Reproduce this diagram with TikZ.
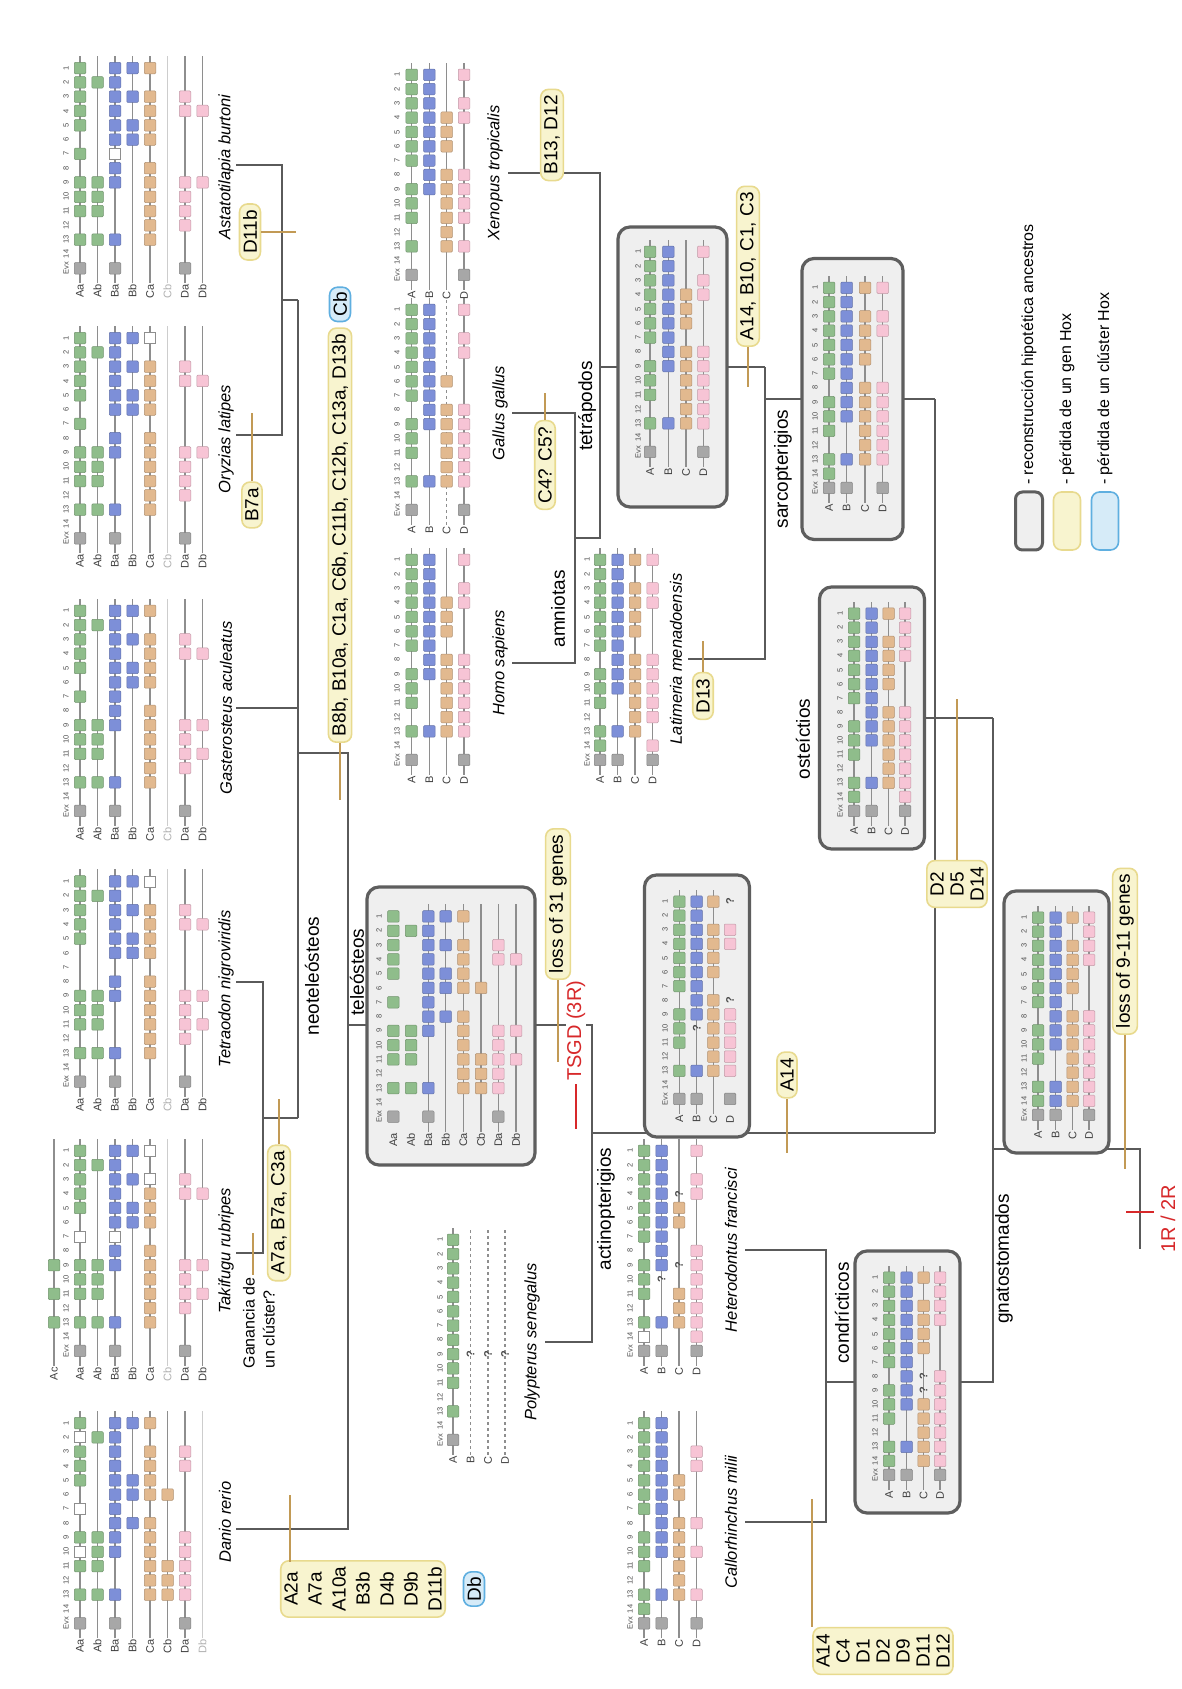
\documentclass[tikz,border=0pt]{standalone}
\usepackage{fontspec}
\setmainfont{Liberation Sans}
\definecolor{cgr}{HTML}{8FBD8B}
\definecolor{cbl}{HTML}{7D8FD8}
\definecolor{cor}{HTML}{E2B98F}
\definecolor{cpk}{HTML}{F7C4D5}
\definecolor{cgy}{HTML}{A7A7A7}
\definecolor{rowline}{HTML}{8E8E8E}
\definecolor{lostline}{HTML}{CDCDCD}
\definecolor{treeline}{HTML}{5A5A5A}
\definecolor{tanline}{HTML}{C29A55}
\definecolor{yfill}{HTML}{F8F4CF}
\definecolor{ybord}{HTML}{E8DA8E}
\definecolor{bfill}{HTML}{D6EBF8}
\definecolor{bbord}{HTML}{5FAFE0}
\definecolor{afill}{HTML}{EFEFEF}
\definecolor{abord}{HTML}{5E5E5E}
\definecolor{redc}{HTML}{D7282A}
\newcommand\gsp{14.3}
\tikzset{
  gsq/.style={draw=#1!78!black, fill=#1, line width=0.5pt, minimum size=11.5pt, inner sep=0pt, rounded corners=1pt},
  esq/.style={draw=rowline, fill=white, line width=0.8pt, minimum size=11pt, inner sep=0pt},
  rline/.style={draw=rowline, line width=1.2pt},
  lline/.style={draw=lostline, line width=1.2pt},
  rlab/.style={anchor=east, inner sep=1pt, text=black!75, font=\fontsize{11}{12}\selectfont},
  llab/.style={rlab, text=black!30},
  hd/.style={inner sep=0pt, text=black!70, font=\fontsize{7.5}{8}\selectfont},
  qm/.style={inner sep=0pt, text=black!70, font=\fontsize{11}{12}\selectfont\bfseries},
  sp/.style={inner sep=1pt, font=\fontsize{16.5}{18}\selectfont\itshape},
  clade/.style={inner sep=1pt, font=\fontsize{19}{21}\selectfont},
  tree/.style={draw=treeline, line width=1.3pt},
  lossl/.style={draw=tanline, line width=1.3pt},
  ybox/.style={draw=ybord, fill=yfill, line width=1.6pt, rounded corners=8pt, inner xsep=6pt, inner ysep=3.5pt, align=center, font=\fontsize{19}{24}\selectfont},
  bbox/.style={draw=bbord, fill=bfill, line width=1.6pt, rounded corners=8pt, inner xsep=5pt, inner ysep=3.5pt, font=\fontsize{19}{22}\selectfont},
  abox/.style={draw=abord, fill=afill, line width=3.2pt, rounded corners=12pt},
  redt/.style={text=redc, inner sep=1pt, font=\fontsize{20}{22}\selectfont},
  redl/.style={draw=redc, line width=2.5pt},
  legt/.style={anchor=west, inner sep=1pt, font=\fontsize{16}{18}\selectfont},
}
\newcommand\hxrow[5]{%
  \foreach \g in {#4}{\ifnum\g=15\relax\node[gsq=cgy] at ({#1},{#2}) {};\else\ifnum\g>0\relax\node[gsq=#3] at ({#1+(15-\g)*\gsp},{#2}) {};\fi\fi}%
  \foreach \g in {#5}{\ifnum\g>0\relax\node[esq] at ({#1+(15-\g)*\gsp},{#2}) {};\fi}%
}
\newcommand\hx[6]{%
  \draw[rline] ({#1-15},{#2}) -- ({#1+14*\gsp+12},{#2});
  \node[rlab] at ({#1-15},{#2}) {#3};
  \hxrow{#1}{#2}{#4}{#5}{#6}}
\newcommand\hxd[6]{%
  \draw[rline,dashed] ({#1-15},{#2}) -- ({#1+14*\gsp+12},{#2});
  \node[rlab] at ({#1-15},{#2}) {#3};
  \hxrow{#1}{#2}{#4}{#5}{#6}}
\newcommand\hxn[6]{%
  \node[rlab] at ({#1-15},{#2}) {#3};
  \hxrow{#1}{#2}{#4}{#5}{#6}}
\newcommand\hxlost[3]{%
  \draw[lline] ({#1-15},{#2}) -- ({#1+14*\gsp+12},{#2});
  \node[llab] at ({#1-15},{#2}) {#3};}
\newcommand\hxhead[2]{%
  \node[hd] at ({#1},{#2}) {Evx};
  \foreach \g in {14,13,...,1}{\node[hd] at ({#1+(15-\g)*\gsp},{#2}) {\g};}}
\begin{document}
\begin{tikzpicture}[x=1pt,y=-1pt,rotate=90,transform shape]
\useasboundingbox[fill=white] (0,0) rectangle (1689,1181);

% ===================== tree (drawn first) =====================
% teleosts
\coordinate (danB) at (160,236);  \coordinate (danN) at (160,348);
\coordinate (telN) at (664,348);  \coordinate (neoN) at (936,348);
\coordinate (neoT) at (936,298);
\draw[tree] (danB) -- (danN) -- (neoN) -- (neoT);
\coordinate (takB) at (436,236); \coordinate (takN) at (436,263);
\coordinate (tetB) at (707,236); \coordinate (tetN) at (707,263);
\coordinate (ttN) at (571,263);  \coordinate (ttS) at (571,298);
\draw[tree] (takB) -- (takN) -- (tetN) -- (tetB);
\draw[tree] (ttN) -- (ttS);
\coordinate (gasB) at (981,236); \coordinate (gasS) at (981,298);
\draw[tree] (gasB) -- (gasS);
\coordinate (oryB) at (1254,236); \coordinate (oryN) at (1254,282);
\coordinate (astB) at (1524,236); \coordinate (astN) at (1524,282);
\coordinate (oaN) at (1389,282);  \coordinate (oaS) at (1389,298);
\draw[tree] (oryB) -- (oryN) -- (astN) -- (astB);
\draw[tree] (oaN) -- (oaS);
\draw[tree] (ttS) -- (oaS);
% teleost stem / actinopterygians
\coordinate (telS) at (664,592); \coordinate (polN) at (347,592);
\coordinate (polB) at (347,545); \coordinate (actN) at (556,592);
\coordinate (actS) at (556,935);
\draw[tree] (telN) -- (664,367);
\draw[tree] (664,535) -- (telS) -- (polN) -- (polB);
\draw[tree] (actN) -- (actS);
% tetrapods / sarcopterygians
\coordinate (homB) at (1026,512); \coordinate (galB) at (1276,512);
\coordinate (amN) at (1151,575);  \coordinate (amS) at (1151,600);
\draw[tree] (homB) -- (1026,575) -- (1276,575) -- (galB);
\coordinate (xenB) at (1516,508); \coordinate (xenN) at (1516,600);
\draw[tree] (amN) -- (amS) -- (xenN) -- (xenB);
\coordinate (tetrN) at (1322,600);
\draw[tree] (tetrN) -- (1322,618);
\draw[tree] (1322,727) -- (1322,765);
\coordinate (latB) at (1030,688); \coordinate (sarN) at (1290,765);
\draw[tree] (latB) -- (1030,765) -- (1322,765);
\draw[tree] (sarN) -- (1290,802);
\draw[tree] (1290,903) -- (1290,935);
\draw[tree] (actS) -- (1290,935);
\draw[tree] (971,925) -- (971,993);
% chondrichthyans / gnathostomes
\coordinate (calB) at (167,745); \coordinate (hetB) at (439,745);
\draw[tree] (calB) -- (167,826) -- (439,826) -- (hetB);
\draw[tree] (307,826) -- (307,855);
\draw[tree] (307,960) -- (307,993) -- (971,993);
\coordinate (rootA) at (540,993); \coordinate (rootB) at (540,1140);
\coordinate (rootC) at (440,1140);
\draw[tree] (rootA) -- (rootB) -- (rootC);

% ===================== teleost species panels =====================
\hxhead{65.7}{66}
\hx{65.7}{80}{Aa}{cgr}{15,13,11,9,5,4,3,1}{10,7,2}
\hx{65.7}{97.5}{Ab}{cgr}{13,11,10,9,2}{0}
\hx{65.7}{115}{Ba}{cbl}{15,13,10,9,8,7,6,5,4,3,2,1}{0}
\hx{65.7}{132.5}{Bb}{cbl}{8,6,5,1}{0}
\hx{65.7}{150}{Ca}{cor}{13,12,11,10,9,8,6,5,4,3,1}{0}
\hx{65.7}{167.5}{Cb}{cor}{13,12,11,6}{0}
\hx{65.7}{185}{Da}{cpk}{15,13,12,11,10,9,4,3}{0}
\hxlost{65.7}{202.5}{Db}
\node[sp] (danio) at (167,225) {Danio rerio};
\hxhead{338}{66}
\hx{338}{54}{Ac}{cgr}{13,11,9}{0}
\hx{338}{80}{Aa}{cgr}{15,13,11,10,9,5,4,3,2,1}{7}
\hx{338}{97.5}{Ab}{cgr}{13,11,10,9,2}{0}
\hx{338}{115}{Ba}{cbl}{15,13,9,8,6,5,4,3,2,1}{7}
\hx{338}{132.5}{Bb}{cbl}{6,5,3,1}{0}
\hx{338}{150}{Ca}{cor}{13,12,11,10,9,8,6,5,4}{3,1}
\hxlost{338}{167.5}{Cb}
\hx{338}{185}{Da}{cpk}{15,12,11,10,9,4,3}{0}
\hx{338}{202.5}{Db}{cpk}{11,9,4}{0}
\node[sp] (taki) at (438,226) {Takifugu rubripes};
\hxhead{607.3}{66}
\hx{607.3}{80}{Aa}{cgr}{15,13,11,10,9,5,4,3,2,1}{0}
\hx{607.3}{97.5}{Ab}{cgr}{13,11,10,9,2}{0}
\hx{607.3}{115}{Ba}{cbl}{15,13,9,8,6,5,4,3,2,1}{0}
\hx{607.3}{132.5}{Bb}{cbl}{6,5,3,1}{0}
\hx{607.3}{150}{Ca}{cor}{13,12,11,10,9,8,6,5,4,3}{1}
\hxlost{607.3}{167.5}{Cb}
\hx{607.3}{185}{Da}{cpk}{15,12,11,10,9,4,3}{0}
\hx{607.3}{202.5}{Db}{cpk}{11,9,4}{0}
\node[sp] (tetra) at (700,226) {Tetraodon nigroviridis};
\hxhead{878}{66}
\hx{878}{80}{Aa}{cgr}{15,13,11,10,9,7,5,4,3,2,1}{0}
\hx{878}{97.5}{Ab}{cgr}{13,11,10,9,2}{0}
\hx{878}{115}{Ba}{cbl}{15,13,9,8,7,6,5,4,3,2,1}{0}
\hx{878}{132.5}{Bb}{cbl}{6,5,3,1}{0}
\hx{878}{150}{Ca}{cor}{13,12,11,10,9,8,6,5,4,3,1}{0}
\hxlost{878}{167.5}{Cb}
\hx{878}{185}{Da}{cpk}{15,12,11,10,9,4,3}{0}
\hx{878}{202.5}{Db}{cpk}{11,9,4}{0}
\node[sp] (gast) at (981,226) {Gasterosteus aculeatus};
\hxhead{1150.7}{66}
\hx{1150.7}{80}{Aa}{cgr}{15,13,11,10,9,7,5,4,3,2,1}{0}
\hx{1150.7}{97.5}{Ab}{cgr}{13,11,10,9,2}{0}
\hx{1150.7}{115}{Ba}{cbl}{15,13,9,8,6,5,4,3,2,1}{0}
\hx{1150.7}{132.5}{Bb}{cbl}{6,5,3,1}{0}
\hx{1150.7}{150}{Ca}{cor}{13,12,11,10,9,8,6,5,4,3}{1}
\hxlost{1150.7}{167.5}{Cb}
\hx{1150.7}{185}{Da}{cpk}{15,12,11,10,9,4,3}{0}
\hx{1150.7}{202.5}{Db}{cpk}{9,4}{0}
\node[sp] (oryz) at (1250,226) {Oryzias latipes};
\hxhead{1420.7}{66}
\hx{1420.7}{80}{Aa}{cgr}{15,13,11,10,9,7,5,4,3,2,1}{0}
\hx{1420.7}{97.5}{Ab}{cgr}{13,11,10,9,2}{0}
\hx{1420.7}{115}{Ba}{cbl}{15,13,9,8,6,5,4,3,2,1}{7}
\hx{1420.7}{132.5}{Bb}{cbl}{6,5,3,1}{0}
\hx{1420.7}{150}{Ca}{cor}{13,12,11,10,9,8,6,5,4,3,1}{0}
\hxlost{1420.7}{167.5}{Cb}
\hx{1420.7}{185}{Da}{cpk}{15,12,11,10,9,4,3}{0}
\hx{1420.7}{202.5}{Db}{cpk}{9,4}{0}
\node[sp] (asta) at (1522,226) {Astatotilapia burtoni};

% ===================== teleost ancestor =====================
\node[abox, minimum width=278pt, minimum height=168pt] (telbox) at (663,451) {};
\hxhead{572.3}{379}
\hxn{572.3}{393.3}{Aa}{cgr}{15,13,11,10,9,7,5,4,3,2,1}{0}
\hxn{572.3}{411}{Ab}{cgr}{13,11,10,9,2}{0}
\hx{572.3}{428.3}{Ba}{cbl}{15,13,9,8,7,6,5,4,3,2,1}{0}
\hx{572.3}{445.7}{Bb}{cbl}{8,6,5,3,1}{0}
\hx{572.3}{463.3}{Ca}{cor}{13,12,11,10,9,8,6,5,4,3,1}{0}
\hx{572.3}{481}{Cb}{cor}{13,12,11,6}{0}
\hx{572.3}{498.3}{Da}{cpk}{15,13,12,11,10,9,4,3}{0}
\hx{572.3}{516}{Db}{cpk}{11,9,4}{0}

% ===================== Polypterus =====================
\hxhead{249}{440}
\hx{249}{453}{A}{cgr}{15,13,11,10,9,8,7,6,5,4,3,2,1}{0}
\hxd{249}{470.5}{B}{cbl}{0}{0}
\hxd{249}{488}{C}{cor}{0}{0}
\hxd{249}{505}{D}{cpk}{0}{0}
\node[qm] at ({249+6*14.3},470.5) {?};
\node[qm] at ({249+6*14.3},488) {?};
\node[qm] at ({249+6*14.3},505) {?};
\node[sp] (poly) at (347,532) {Polypterus senegalus};

% ===================== tetrapods =====================
\hxhead{929}{397}
\hx{929}{411.7}{A}{cgr}{15,13,11,10,9,7,6,5,4,3,2,1}{0}
\hx{929}{429.3}{B}{cbl}{13,9,8,7,6,5,4,3,2,1}{0}
\hx{929}{446.7}{C}{cor}{13,12,11,10,9,8,6,5,4}{0}
\hx{929}{464}{D}{cpk}{15,13,12,11,10,9,8,4,3,1}{0}
\node[sp] (homo) at (1026,500) {Homo sapiens};
\hxhead{1179}{397}
\hx{1179}{411.7}{A}{cgr}{15,13,11,10,9,7,6,5,4,3,2,1}{0}
\hx{1179}{429.3}{B}{cbl}{13,9,8,7,6,5,4,3,2,1}{0}
\hxd{1179}{446.7}{C}{cor}{13,12,11,10,9,8,6}{0}
\hx{1179}{464}{D}{cpk}{15,13,12,11,10,9,8,4,3,1}{0}
\node[sp] (gallus) at (1276,500) {Gallus gallus};
\hxhead{1414}{397}
\hx{1414}{411.7}{A}{cgr}{15,13,11,10,9,7,6,5,4,3,2,1}{0}
\hx{1414}{429.3}{B}{cbl}{9,8,7,6,5,4,3,2,1}{0}
\hx{1414}{446.7}{C}{cor}{13,12,11,10,9,8,6,5,4}{0}
\hx{1414}{464}{D}{cpk}{15,13,11,10,9,8,4,3,1}{0}
\node[sp] (xeno) at (1516,495) {Xenopus tropicalis};

% tetrapod ancestor
\node[abox, minimum width=280pt, minimum height=109pt] (tetbox) at (1322,672.5) {};
\hxhead{1237}{638}
\hx{1237}{650}{A}{cgr}{15,13,11,10,9,7,6,5,4,3,2,1}{0}
\hx{1237}{668.3}{B}{cbl}{13,9,8,7,6,5,4,3,2,1}{0}
\hx{1237}{686}{C}{cor}{13,12,11,10,9,8,6,5,4}{0}
\hx{1237}{703.3}{D}{cpk}{15,13,12,11,10,9,8,4,3,1}{0}

% Latimeria
\hxhead{929}{587}
\hx{929}{600}{A}{cgr}{15,14,13,11,10,9,7,6,5,4,3,2,1}{0}
\hx{929}{617.5}{B}{cbl}{15,13,10,9,8,7,6,5,4,3,2,1}{0}
\hx{929}{635}{C}{cor}{13,12,11,10,9,8,6,5,4,3,1}{0}
\hx{929}{652.5}{D}{cpk}{15,14,12,11,10,9,8,4,3,1}{0}
\node[sp] (lati) at (1030,676) {Latimeria menadoensis};

% sarcopterygian ancestor
\node[abox, minimum width=281pt, minimum height=101pt] (sarbox) at (1290,852.5) {};
\hxhead{1201}{815}
\hx{1201}{829}{A}{cgr}{15,14,13,11,10,9,7,6,5,4,3,2,1}{0}
\hx{1201}{846.7}{B}{cbl}{15,13,10,9,8,7,6,5,4,3,2,1}{0}
\hx{1201}{865}{C}{cor}{13,12,11,10,9,8,6,5,4,3,1}{0}
\hx{1201}{882.7}{D}{cpk}{15,13,12,11,10,9,8,4,3,1}{0}

% ===================== actinopterygian ancestor =====================
\node[abox, minimum width=262pt, minimum height=105pt] (actbox) at (683,697) {};
\renewcommand\gsp{14.1}
\hxhead{590}{665}
\hx{590}{679.3}{A}{cgr}{15,13,11,10,9,7,6,5,4,3,2,1}{0}
\hx{590}{696.7}{B}{cbl}{15,13,9,8,7,6,5,4,3,2,1}{0}
\hx{590}{713.3}{C}{cor}{13,12,11,10,9,8,6,5,4,3,1}{0}
\hxn{590}{730}{D}{cpk}{15,13,12,11,10,9,4,3}{0}
\node[qm] at ({590+5*14.1},696.7) {?};
\node[qm] at ({590+7*14.1},730) {?};
\node[qm] at ({590+14*14.1},730) {?};

% osteichthyes ancestor
\node[abox, minimum width=262pt, minimum height=105pt] (ostbox) at (971,872) {};
\hxhead{878}{840}
\hx{878}{854}{A}{cgr}{15,14,13,11,10,9,7,6,5,4,3,2,1}{0}
\hx{878}{871.5}{B}{cbl}{15,13,10,9,8,7,6,5,4,3,2,1}{0}
\hx{878}{888.5}{C}{cor}{13,12,11,10,9,8,6,5,4,3,1}{0}
\hx{878}{905}{D}{cpk}{15,14,13,12,11,10,9,8,4,3,2,1}{0}

% gnathostome ancestor
\node[abox, minimum width=262pt, minimum height=105pt] (gnabox) at (667,1056.5) {};
\hxhead{574}{1024}
\hx{574}{1038}{A}{cgr}{15,14,13,11,10,9,7,6,5,4,3,2,1}{0}
\hx{574}{1055.5}{B}{cbl}{15,14,13,10,9,8,7,6,5,4,3,2,1}{0}
\hx{574}{1072.5}{C}{cor}{14,13,12,11,10,9,8,6,5,4,3,1}{0}
\hx{574}{1089}{D}{cpk}{15,14,13,12,11,10,9,8,4,3,2,1}{0}

% chondrichthyan ancestor
\node[abox, minimum width=262pt, minimum height=105pt] (chobox) at (307,907.5) {};
\hxhead{214}{875}
\hx{214}{889}{A}{cgr}{15,14,13,11,10,9,7,6,5,4,3,2,1}{0}
\hx{214}{906.5}{B}{cbl}{15,13,10,9,8,7,6,5,4,3,2,1}{0}
\hx{214}{923.5}{C}{cor}{14,13,12,11,10,6,5,4,3,1}{0}
\hx{214}{940}{D}{cpk}{15,14,13,12,11,10,9,8,4,3,2,1}{0}
\node[qm] at ({214+6*14.1},923.5) {?};
\node[qm] at ({214+7*14.1},923.5) {?};
\renewcommand\gsp{14.3}

% Callorhinchus and Heterodontus
\hxhead{65.7}{630}
\hx{65.7}{644}{A}{cgr}{15,14,13,11,10,9,7,6,5,4,3,2,1}{0}
\hx{65.7}{661.5}{B}{cbl}{15,13,10,9,8,7,6,5,4,3,2,1}{0}
\hx{65.7}{679}{C}{cor}{13,12,11,10,9,8,6,5}{0}
\hx{65.7}{696.5}{D}{cpk}{15,13,10,8,4,3}{0}
\node[sp] (callo) at (167,731) {Callorhinchus milii};
\hxhead{338}{630}
\hx{338}{644}{A}{cgr}{15,13,11,10,9,7,6,5,4,3,2,1}{14}
\hx{338}{661.5}{B}{cbl}{15,13,9,8,7,6,5,4,3,2,1}{0}
\hx{338}{679}{C}{cor}{13,12,11,6,5}{0}
\hx{338}{696.5}{D}{cpk}{15,14,13,12,11,10,9,8,4,3,1}{0}
\node[qm] at ({338+5*14.3},661.5) {?};
\node[qm] at ({338+6*14.3},679) {?};
\node[qm] at ({338+11*14.3},679) {?};
\node[sp] (hetero) at (439,731) {Heterodontus francisci};

% ===================== loss labels =====================
\node[ybox] (ldan) at (100,363) {A2a\\A7a\\A10a\\B3b\\D4b\\D9b\\D11b};
\draw[lossl] (127,290) -- (194,290);
\node[bbox] (db) at (100,474) {Db};
\node[align=left, inner sep=1pt, font=\fontsize{16}{20}\selectfont] (gan) at (366,259) {Ganancia de\\un clúster?};
\draw[lossl] (414,253) -- (456,253);
\node[ybox] (l7a) at (476,279) {A7a, B7a, C3a};
\draw[lossl] (l7a.east) -- (590,279);
\node[ybox] (lb7) at (1184,252) {B7a};
\draw[lossl] (lb7.east) -- (1276,252);
\node[ybox] (ld11) at (1457,250) {D11b};
\draw[lossl] (ld11.south) -- (1457,296);
\node[ybox, anchor=west] (lb8) at (946,340) {B8b, B10a, C1a, C6b, C11b, C12b, C13a, D13b};
\draw[lossl] (889,340) -- (lb8.west);
\node[bbox, anchor=west] (cb) at ([xshift=5pt]lb8.east) {Cb};
\node[ybox, anchor=west] (l31) at (709,558) {loss of 31 genes};
\draw[lossl] (627,558) -- (l31.west);
\draw[redl] (560,576) -- (605,576);
\node[redt, anchor=west, fill=white] (tsgd) at (607,576) {TSGD (3R)};
\node[ybox] (lb13) at (1554,552) {B13, D12};
\node[ybox] (lc4) at (1224,545) {C4? C5?};
\draw[lossl] (lc4.east) -- (1296,545);
\node[ybox] (ld13) at (993,703) {D13};
\draw[lossl] (ld13.east) -- (1048,703);
\node[ybox] (la14) at (614,787) {A14};
\draw[lossl] (536,787) -- (la14.west);
\node[ybox, anchor=west] (lsar) at (1342,748) {A14, B10, C1, C3};
\draw[lossl] (1302,748) -- (lsar.west);
\node[ybox, font=\fontsize{19}{20}\selectfont] (lost) at (805,957) {D2\\D5\\D14};
\draw[lossl] (lost.east) -- (990,957);
\node[ybox, font=\fontsize{19}{20}\selectfont] (lcal) at (38,883) {A14\\C4\\D1\\D2\\D9\\D11\\D12};
\draw[lossl] (62,812) -- (190,812);
\node[ybox, anchor=west] (l911) at (654,1125) {loss of 9-11 genes};
\draw[lossl] (520,1125) -- (l911.west);
\draw[redl] (477,1126) -- (477,1154);
\node[redt] (r12) at (470,1168) {1R / 2R};

% clade names
\node[clade] at (713,312) {neoteleósteos};
\node[clade] at (717,357) {teleósteos};
\node[clade] at (480,606) {actinopterigios};
\node[clade] at (1080,558) {amniotas};
\node[clade] at (1283,587) {tetrápodos};
\node[clade] at (1220,783) {sarcopterigios};
\node[clade] at (950,803) {osteíctios};
\node[clade] at (376,842) {condrícticos};
\node[clade] at (430,1004) {gnatostomados};

% legend
\node[abox, line width=3pt, rounded corners=7pt, minimum width=58pt, minimum height=27pt] (lg1) at (1168,1029) {};
\node[legt] at (1203,1029) {- reconstrucción hipotética ancestros};
\node[ybox, minimum width=58pt, minimum height=27pt] (lg2) at (1168,1067) {};
\node[legt] at (1203,1067) {- pérdida de un gen Hox};
\node[bbox, minimum width=58pt, minimum height=27pt] (lg3) at (1168,1105) {};
\node[legt] at (1203,1105) {- pérdida de un clúster Hox};
\end{tikzpicture}
\end{document}
